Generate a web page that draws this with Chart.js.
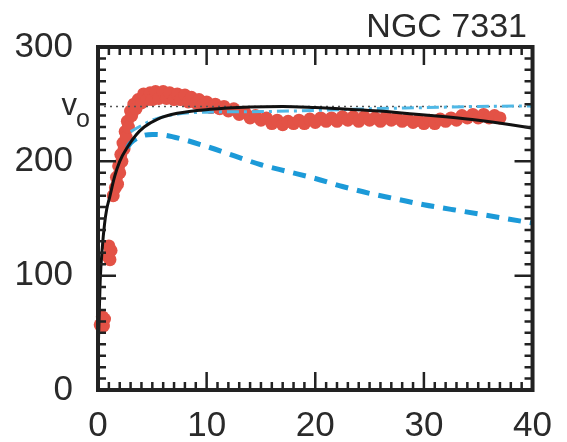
<!DOCTYPE html>
<html>
<head>
<meta charset="utf-8">
<script src="https://cdn.jsdelivr.net/npm/chart.js@4.4.1/dist/chart.umd.min.js"></script>
<style>
	body { margin: 0; background: #fff; }
	canvas { display: block; }
</style>
</head>
<body>
<canvas id="curve" width="567" height="442"></canvas>
<script>
// Rotation curve data (radius, velocity)
const obsR = [0.2, 0.4, 0.5, 0.6, 0.9, 1.0, 1.1, 1.2, 1.4, 1.6, 1.7, 1.8, 1.9, 2.0, 2.1, 2.2, 2.3, 2.4, 2.5, 2.6, 2.7, 2.8, 3.0, 3.1, 3.3, 3.5, 3.7, 4.0, 4.2, 4.5, 4.8, 5.0, 5.3, 5.6, 6.0, 6.3, 6.6, 7.0, 7.3, 7.6, 8.0, 8.3, 8.6, 9.0, 9.3, 9.6, 10.0, 10.4, 10.8, 11.2, 11.6, 12.0, 12.5, 13.0, 13.5, 14.0, 14.5, 15.0, 15.5, 16.0, 16.5, 17.0, 17.5, 18.0, 18.5, 19.0, 19.5, 20.0, 20.5, 21.0, 21.5, 22.0, 22.5, 23.0, 23.5, 24.0, 24.5, 25.0, 25.5, 26.0, 26.5, 27.0, 27.5, 28.0, 28.5, 29.0, 29.5, 30.0, 30.5, 31.0, 31.5, 32.0, 32.5, 33.0, 33.5, 34.0, 34.5, 35.0, 35.5, 36.0, 36.5, 37.0];
const obsV = [57, 64, 56, 62, 117, 126, 114, 122, 170, 177, 186, 180, 196, 190, 206, 200, 216, 211, 226, 221, 235, 230, 244, 240, 250, 246, 254, 251, 259, 254, 260, 254, 261, 255, 261, 255, 260, 254, 259, 254, 258, 252, 256, 251, 254, 249, 252, 247, 250, 246, 248, 244, 246, 241, 243, 238, 240, 236, 238, 233, 236, 232, 235, 233, 236, 233, 237, 234, 238, 235, 238, 235, 239, 236, 239, 235, 239, 236, 238, 235, 239, 236, 238, 235, 237, 234, 236, 233, 236, 233, 237, 235, 238, 236, 240, 238, 241, 238, 241, 238, 240, 238];

// Total model
const fitR = [0.05, 0.2, 0.4, 0.6, 0.8, 1.08, 1.54, 2.0, 2.75, 3.5, 4.25, 5.5, 7.3, 10.3, 14, 17, 20, 23, 25.8, 29, 32, 35, 38, 40];
const fitV = [45, 95, 125, 145, 158, 169, 187, 200, 213, 223, 230, 237, 242, 245.5, 247.5, 248, 247, 245.5, 244, 241.5, 239, 236, 232, 229];

// Keplerian-like decline
const diskR = [2.7, 3, 4, 5, 6, 7.5, 10, 12.5, 15, 17.5, 20, 22.5, 25, 27.5, 30, 32.5, 35, 37.5, 40];
const diskV = [212, 216, 222, 223.5, 223, 220, 213, 205, 197, 191, 185, 178, 172, 167, 162, 158, 154, 150, 146];

// Flat model
const haloR = [3, 5, 7.5, 10, 15, 20, 25, 30, 35, 40];
const haloV = [226, 236, 241.5, 243, 243.5, 244.5, 246, 247, 248, 248.5];

const vzeroR = [0, 40];
const vzeroV = [248, 248];

const xTicks = [0, 10, 20, 30, 40];
const yTicks = [0, 100, 200, 300];

const FONT = '"Liberation Sans", Arial, sans-serif';

function toPoints(xs, ys) {
	return xs.map((x, i) => ({ x: x, y: ys[i] }));
}

// Frame with inward ticks, title and v0 label
const framePlugin = {
	id: 'frame',
	afterDatasetsDraw(chart) {
		const { ctx, chartArea: a, scales } = chart;
		const sx = scales.x;
		const sy = scales.y;
		ctx.save();
		ctx.strokeStyle = '#222';
		ctx.lineWidth = 2.5;
		ctx.beginPath();
		for (let v = 0; v <= 40; v++) {
			const px = sx.getPixelForValue(v);
			const len = v % 10 === 0 ? 18 : 8;
			ctx.moveTo(px, a.bottom);
			ctx.lineTo(px, a.bottom - len);
			ctx.moveTo(px, a.top);
			ctx.lineTo(px, a.top + len);
		}
		for (let v = 0; v <= 300; v += 10) {
			const py = sy.getPixelForValue(v);
			const len = v % 100 === 0 ? 18 : 8;
			ctx.moveTo(a.left, py);
			ctx.lineTo(a.left + len, py);
			ctx.moveTo(a.right, py);
			ctx.lineTo(a.right - len, py);
		}
		ctx.stroke();
		ctx.lineWidth = 4;
		ctx.strokeRect(a.left, a.top, a.right - a.left, a.bottom - a.top);

		ctx.fillStyle = '#2a2a2a';
		ctx.textBaseline = 'alphabetic';
		ctx.textAlign = 'right';
		ctx.font = '34px ' + FONT;
		ctx.fillText('NGC 7331', 527, 37);

		const vy = sy.getPixelForValue(vzeroV[0]);
		ctx.font = '31px ' + FONT;
		ctx.fillText('v', 77, vy + 9);
		ctx.textAlign = 'left';
		ctx.font = '25px ' + FONT;
		ctx.fillText('o', 76, vy + 21);
		ctx.restore();
	},
};

const ctxCurve = document.getElementById('curve').getContext('2d');
const curveChart = new Chart(ctxCurve, {
	type: 'scatter',
	data: {
		datasets: [
			{
				label: 'model',
				data: toPoints(fitR, fitV),
				showLine: true,
				borderColor: '#111',
				borderWidth: 3,
				pointRadius: 0,
				cubicInterpolationMode: 'monotone',
				order: 1,
			},
			{
				label: 'flat',
				data: toPoints(haloR, haloV),
				showLine: true,
				borderColor: '#4fb8e6',
				borderWidth: 3,
				borderDash: [12, 5, 3, 5],
				pointRadius: 0,
				cubicInterpolationMode: 'monotone',
				order: 2,
			},
			{
				label: 'decline',
				data: toPoints(diskR, diskV),
				showLine: true,
				borderColor: '#1c9ad8',
				borderWidth: 5,
				borderDash: [13, 9],
				pointRadius: 0,
				cubicInterpolationMode: 'monotone',
				order: 3,
			},
			{
				label: 'v0',
				data: toPoints(vzeroR, vzeroV),
				showLine: true,
				borderColor: '#555',
				borderWidth: 1.5,
				borderDash: [2, 4],
				pointRadius: 0,
				order: 4,
			},
			{
				label: 'observed',
				data: toPoints(obsR, obsV),
				backgroundColor: '#e35246',
				borderWidth: 0,
				pointRadius: 6.5,
				clip: 10,
				order: 5,
			},
		],
	},
	options: {
		responsive: false,
		animation: false,
		devicePixelRatio: 1,
		layout: { padding: { top: 47, right: 27, bottom: 0, left: 0 } },
		plugins: {
			legend: { display: false },
			tooltip: { enabled: false },
			title: { display: false },
		},
		scales: {
			x: {
				type: 'linear',
				min: 0,
				max: 40,
				afterBuildTicks: (s) => {
					s.ticks = xTicks.map((v) => ({ value: v }));
				},
				afterFit: (s) => {
					s.height = 52;
				},
				grid: { display: false, drawTicks: false },
				border: { display: false },
				ticks: {
					font: { family: FONT, size: 35 },
					color: '#2a2a2a',
					padding: 15,
					maxRotation: 0,
				},
			},
			y: {
				type: 'linear',
				min: 0,
				max: 300,
				afterBuildTicks: (s) => {
					s.ticks = yTicks.map((v) => ({ value: v }));
				},
				afterFit: (s) => {
					s.width = 98;
				},
				grid: { display: false, drawTicks: false },
				border: { display: false },
				ticks: {
					font: { family: FONT, size: 35 },
					color: '#2a2a2a',
					padding: 25,
				},
			},
		},
	},
	plugins: [framePlugin],
});
</script>
</body>
</html>
